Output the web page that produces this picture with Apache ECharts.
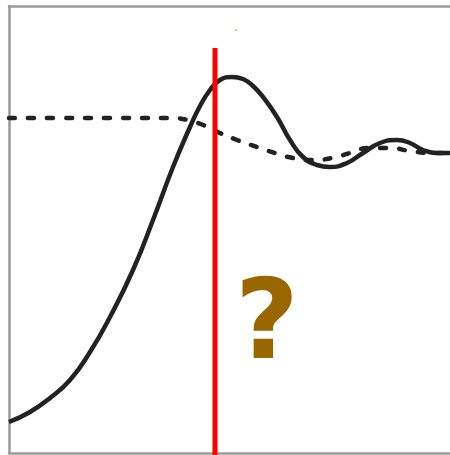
<!DOCTYPE html>
<html><head><meta charset="utf-8">
<script src="https://cdn.jsdelivr.net/npm/echarts@6/dist/echarts.min.js"></script>
<style>html,body{margin:0;padding:0;background:#fff}#c{width:450px;height:455px}</style>
</head><body><div id="c"></div>
<script>
// Response curve (solid) – x, y in plot units (y grows downward)
const solidX = [9,30,50,70,90,110,133,153,173,190,200,210,220,232,243,253,263,277,290,303,317,330,347,363,380,397,410,423,437,450];
const solidY = [422,412,398,380,352,317,270,220,167,127,106,90,80,77,79,86,97,117,140,157,165,167,163,153,143,140,143,150,153,153];
// Reference curve (dashed)
const dashX = [9,60,120,170,188,203,220,237,257,275,293,313,332,350,368,390,410,430,450];
const dashY = [118,118,118,118,120,125,133,140,147,153,158,160,158,153,148,148,151,153,153];
// Red marker line
const markerX = [215,215];
const markerY = [48,460];
// Small orange dot
const dotX = [236];
const dotY = [30];
const questionText = '?';

const zip = (a,b)=>a.map((v,i)=>[v,b[i]]);
const border = {show:true,onZero:false,lineStyle:{color:'#9a9a9a',width:2.5}};
const hid = {axisTick:{show:false},axisLabel:{show:false},splitLine:{show:false}};
const chart = echarts.init(document.getElementById('c'));
chart.setOption({
  animation:false,
  grid:{left:9,top:6,right:0,bottom:2,outerBoundsMode:'none',containLabel:false},
  xAxis:[
    Object.assign({type:'value',min:9,max:450,position:'bottom',axisLine:border},hid),
    Object.assign({type:'value',min:9,max:450,position:'top',axisLine:border},hid)
  ],
  yAxis:Object.assign({type:'value',min:6,max:453,inverse:true,position:'left',axisLine:border},hid),
  series:[
    {type:'line',data:zip(dashX,dashY),smooth:0.5,showSymbol:false,clip:true,
     lineStyle:{color:'#222',width:4.5,type:[6,13],cap:'round'}},
    {type:'line',data:zip(solidX,solidY),smooth:0.5,showSymbol:false,clip:true,
     lineStyle:{color:'#222',width:4.5}},
    {type:'line',data:zip(markerX,markerY),showSymbol:false,clip:true,
     lineStyle:{color:'#ff0000',width:5}},
    {type:'scatter',data:zip(dotX,dotY),symbolSize:2,itemStyle:{color:'#e0a000'}}
  ],
  graphic:[{type:'text',left:235,top:274,style:{text:questionText,font:'bold 110px "DejaVu Sans"',fill:'#996600'}}]
});
</script></body></html>
